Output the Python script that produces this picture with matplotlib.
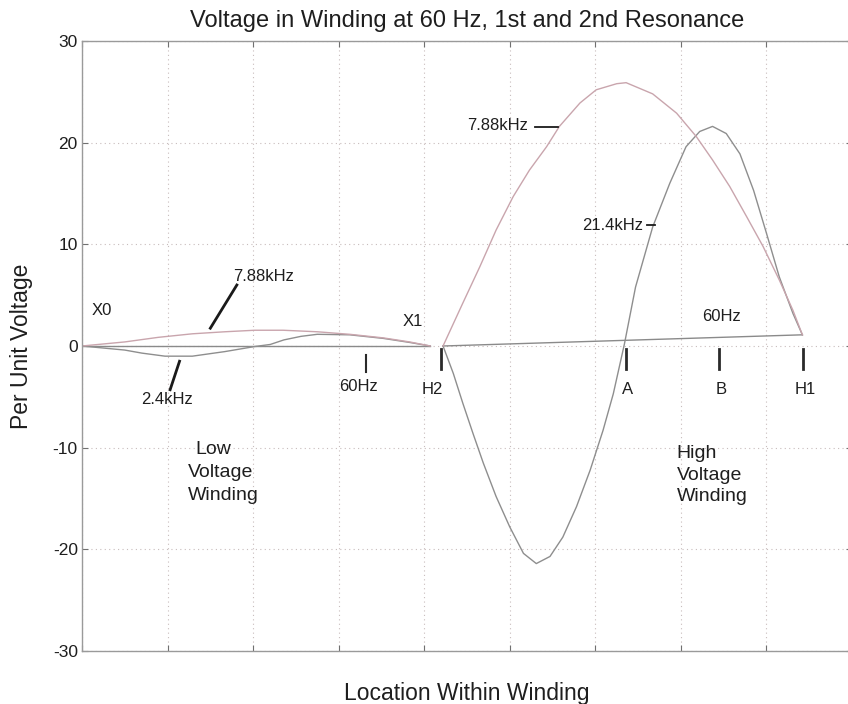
import matplotlib
matplotlib.use("Agg")
import matplotlib.pyplot as plt
from matplotlib import font_manager

# ---- data -------------------------------------------------------------
# Low-voltage winding (X0 .. X1)
lv_x_788 = [0.00, 0.50, 0.89, 1.29, 1.67, 2.02, 2.35, 2.75, 3.13, 3.52, 3.83, 4.07]
lv_v_788 = [0.00, 0.40, 0.85, 1.20, 1.40, 1.55, 1.55, 1.40, 1.15, 0.80, 0.40, 0.00]

lv_x_24 = [0.00, 0.50, 0.70, 0.97, 1.29, 1.67, 2.02, 2.20, 2.36, 2.56, 2.75, 3.13, 3.52, 3.83, 4.07]
lv_v_24 = [0.00, -0.40, -0.70, -1.00, -1.00, -0.55, -0.05, 0.15, 0.60, 0.95, 1.15, 1.10, 0.75, 0.35, 0.00]

lv_x_60 = [0.00, 4.07]
lv_v_60 = [0.00, 0.00]

# High-voltage winding (H2 .. H1)
hv_x_788 = [4.22, 4.45, 4.65, 4.84, 5.04, 5.23, 5.43, 5.58, 5.82, 6.01, 6.25, 6.36,
            6.67, 6.95, 7.18, 7.37, 7.57, 7.77, 7.96, 8.15, 8.31, 8.42]
hv_v_788 = [0.0, 4.2, 7.8, 11.4, 14.7, 17.3, 19.6, 21.6, 23.9, 25.2, 25.8, 25.9,
            24.8, 22.9, 20.6, 18.3, 15.7, 12.7, 9.8, 6.5, 3.5, 1.1]

hv_x_214 = [4.22, 4.34, 4.45, 4.57, 4.69, 4.84, 5.00, 5.16, 5.31, 5.47, 5.62, 5.78,
            5.94, 6.09, 6.21, 6.34, 6.47, 6.67, 6.87, 7.06, 7.22, 7.37, 7.53, 7.69,
            7.85, 8.00, 8.15, 8.31, 8.42]
hv_v_214 = [0.0, -2.7, -5.6, -8.6, -11.5, -14.8, -17.8, -20.4, -21.4, -20.7, -18.8, -15.8,
            -12.2, -8.3, -4.7, 0.2, 5.8, 11.7, 16.0, 19.6, 21.1, 21.6, 20.9, 18.9,
            15.3, 11.1, 6.8, 3.2, 1.1]

hv_x_60 = [4.22, 8.42]
hv_v_60 = [0.0, 1.1]

# Terminal markers along the winding
terminal_names = ["H2", "A", "B", "H1"]
terminal_pos = [4.20, 6.36, 7.45, 8.43]

y_ticks = [-30, -20, -10, 0, 10, 20, 30]
x_ticks = list(range(0, 10))

# ---- fonts ------------------------------------------------------------
installed = {f.name for f in font_manager.fontManager.ttflist}
if "Liberation Sans Narrow" in installed:
    FAMILY = ["Liberation Sans Narrow", "DejaVu Sans"]
    k = 1.2
else:
    FAMILY = ["Liberation Sans", "DejaVu Sans"]
    k = 1.0
plt.rcParams["font.family"] = FAMILY
plt.rcParams["axes.unicode_minus"] = False

TXT = "#1e1e1e"
GRID = "#c8bcbc"
SPINE = "#9a9a9a"

fig = plt.figure(figsize=(8.48, 7.04), dpi=100)
ax = fig.add_axes([82 / 848, 53 / 704, 770 / 848, 610 / 704])

ax.plot(lv_x_60, lv_v_60, color="#8a8a8a", lw=1.0)
ax.plot(lv_x_24, lv_v_24, color="#8e8e8e", lw=1.0)
ax.plot(lv_x_788, lv_v_788, color="#c9a5ad", lw=1.0)
ax.plot(hv_x_60, hv_v_60, color="#8a8a8a", lw=1.0)
ax.plot(hv_x_214, hv_v_214, color="#8e8e8e", lw=1.0)
ax.plot(hv_x_788, hv_v_788, color="#c9a5ad", lw=1.0)

ax.set_xlim(0, 9)
ax.set_ylim(-30, 30)
ax.set_xticks(x_ticks)
ax.set_xticklabels([])
ax.set_yticks(y_ticks)
ax.tick_params(direction="in", length=4, color="#707070", top=True, right=True,
               labelsize=12.5 * k, labelcolor=TXT, pad=3)
ax.grid(True, linestyle=(0, (1, 3)), color=GRID, lw=0.8)
for s in ax.spines.values():
    s.set_color(SPINE)
    s.set_linewidth(1.0)

ax.set_title("Voltage in Winding at 60 Hz, 1st and 2nd Resonance",
             fontsize=17 * k, color=TXT, pad=10)
ax.set_xlabel("Location Within Winding", fontsize=16.5 * k, color=TXT, labelpad=19)
ax.set_ylabel("Per Unit Voltage", fontsize=16.5 * k, color=TXT, labelpad=14)

# terminal markers and names
for name, xp in zip(terminal_names, terminal_pos):
    ax.plot([xp, xp], [-0.3, -2.3], color="#2a2a2a", lw=2.0)
    dx = -0.1 if name == "H2" else 0.02
    ax.text(xp + dx, -4.3, name, ha="center", va="center", fontsize=12 * k, color=TXT)

ax.text(0.23, 3.5, "X0", ha="center", va="center", fontsize=12 * k, color=TXT)
ax.text(3.87, 2.4, "X1", ha="center", va="center", fontsize=12 * k, color=TXT)

# low-voltage labels and pointers
ax.plot([1.81, 1.50], [6.0, 1.75], color="#1a1a1a", lw=2.0)
ax.text(2.12, 6.8, "7.88kHz", ha="center", va="center", fontsize=12 * k, color=TXT)
ax.plot([1.14, 1.03], [-1.5, -4.3], color="#1a1a1a", lw=2.0)
ax.text(0.99, -5.3, "2.4kHz", ha="center", va="center", fontsize=12 * k, color=TXT)
ax.plot([3.32, 3.32], [-0.9, -2.6], color="#2a2a2a", lw=1.5)
ax.text(3.23, -4.0, "60Hz", ha="center", va="center", fontsize=12 * k, color=TXT)

# high-voltage labels and pointers
ax.text(5.21, 21.7, "7.88kHz", ha="right", va="center", fontsize=12 * k, color=TXT)
ax.plot([5.29, 5.56], [21.5, 21.5], color="#1a1a1a", lw=1.3)
ax.text(6.56, 11.9, "21.4kHz", ha="right", va="center", fontsize=12 * k, color=TXT)
ax.plot([6.60, 6.70], [11.9, 11.9], color="#1a1a1a", lw=1.3)
ax.text(7.47, 2.9, "60Hz", ha="center", va="center", fontsize=12 * k, color=TXT)

# winding captions
for i, line in enumerate(["Low", "Voltage", "Winding"]):
    ax.text(1.24 + (0.08 if i == 0 else 0), -10.2 - 2.25 * i, line,
            ha="left", va="center", fontsize=14 * k, color=TXT)
for i, line in enumerate(["High", "Voltage", "Winding"]):
    ax.text(6.95, -10.55 - 2.15 * i, line,
            ha="left", va="center", fontsize=14 * k, color=TXT)

fig.savefig("out.png", dpi=100)
